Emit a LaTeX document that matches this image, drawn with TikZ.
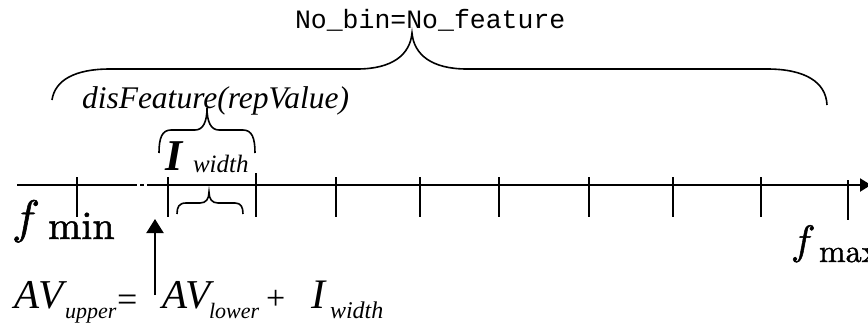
\documentclass[tikz,border=0pt]{standalone}
\usepackage{fontspec}
\newfontfamily\tms{Liberation Serif}
\newfontfamily\cour{Liberation Mono}
\newfontfamily\lmten{lmroman10-regular.otf}[FakeBold=1.2]
\newfontfamily\lmmath{latinmodern-math.otf}[FakeBold=1.2]
\usetikzlibrary{arrows.meta}
\tikzset{
  lbl/.style={inner sep=0pt, outer sep=0pt, anchor=base west},
  axisline/.style={line width=2.2pt},
  tickline/.style={line width=1.4pt},
  bracepath/.style={line width=1.6pt},
}
\newcommand{\fs}[1]{\fontsize{#1}{#1}\selectfont}
\begin{document}
\begin{tikzpicture}[x=1pt,y=-1pt]
\useasboundingbox (0,0) rectangle (868,325);
% axis
\coordinate (a0) at (17,185);
\coordinate (a1) at (137,185);
\coordinate (d0) at (140,185);
\coordinate (d1) at (144,185);
\coordinate (a2) at (147,185);
\coordinate (a3) at (871,185);
\draw[axisline] (a0) -- (a1);
\draw[axisline] (d0) -- (d1);
\draw[axisline,-{Triangle[length=11pt,width=13pt]}] (a2) -- (a3);
% ticks
\foreach \x in {77,168,336,420,499,589,673,761}
  \draw[tickline] (\x,177) -- (\x,217);
\draw[tickline] (256,173) -- (256,217);
\draw[tickline] (848,180) -- (848,220);
% big brace
\draw[bracepath] (52,100) .. controls (55,80) and (75,69) .. (110,69) -- (357,69)
  .. controls (392,69) and (410,55) .. (412,33)
  .. controls (414,55) and (432,69) .. (467,69) -- (767,69)
  .. controls (805,69) and (826,82) .. (827,105);
% small brace over I_width
\draw[bracepath] (159,153) .. controls (159,138) and (162,130) .. (171,130) -- (195,130)
  .. controls (203,130) and (207,122) .. (207,108)
  .. controls (207,122) and (211,130) .. (219,130) -- (243,130)
  .. controls (252,130) and (255,138) .. (255,153);
% lower brace
\draw[bracepath] (177,214) .. controls (177,207) and (179,203) .. (186,203) -- (200,203)
  .. controls (206,203) and (209,199) .. (209,192)
  .. controls (209,199) and (212,203) .. (218,203) -- (235,203)
  .. controls (241,203) and (243,207) .. (243,214);
% arrow
\coordinate (arrbot) at (155,295);
\coordinate (arrtip) at (155,219);
\draw[line width=2pt,-{Triangle[length=14pt,width=17pt]}] (arrbot) -- (arrtip);
% texts
\node[lbl] (nobin) at (295,28) {\cour\fs{26.5}No\_bin=No\_feature};
\node[lbl] (disf) at (82,108) {\tms\itshape\fs{31.5}disFeature(repValue)};
\node[lbl] (ibig) at (165,170) {\tms\bfseries\itshape\fs{44}I};
\node[lbl] (iwid) at (193,172) {\tms\itshape\fs{25}width};
\node[lbl] (fmin) at (12,233) {\lmmath\fs{47}^^^^^^01d453};
\node[lbl] (fminsub) at (48,239) {\lmten\fs{40}min};
\node[lbl] (fmax) at (791,254) {\lmmath\fs{41}^^^^^^01d453};
\node[lbl] (fmaxsub) at (819,262) {\lmten\fs{32}max};
\node[lbl] (av1) at (15,308) {\tms\itshape\fs{41}AV};
\node[lbl] (up) at (65,318) {\tms\itshape\fs{22}upper};
\node[lbl] (eq) at (117,311) {\tms\fs{36}=};
\node[lbl] (av2) at (162,308) {\tms\itshape\fs{41}AV};
\node[lbl] (low) at (209,318) {\tms\itshape\fs{22}lower};
\node[lbl] (plus) at (266,309) {\tms\fs{34}+};
\node[lbl] (i2) at (311,308) {\tms\itshape\fs{42}I};
\node[lbl] (w2) at (330,318) {\tms\itshape\fs{24}width};
\end{tikzpicture}
\end{document}
